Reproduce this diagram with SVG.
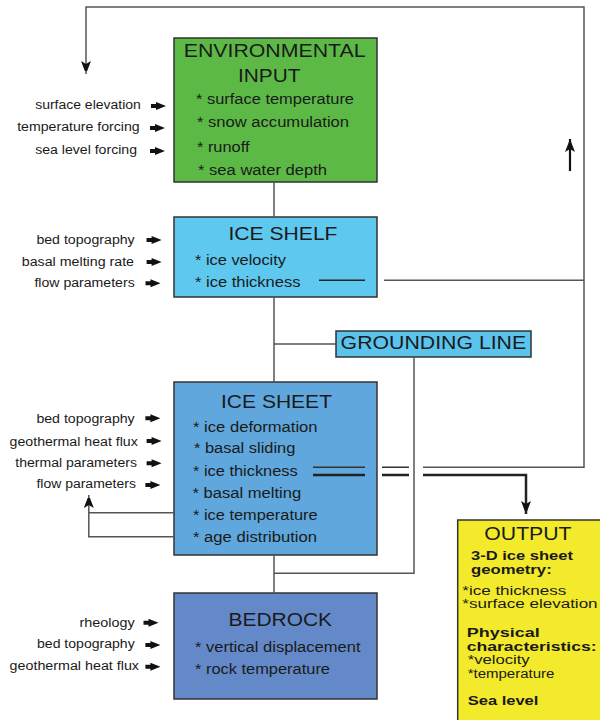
<svg xmlns="http://www.w3.org/2000/svg" width="600" height="720" viewBox="0 0 600 720">
<defs>
<style>
text{font-family:"Liberation Sans",Arial,Helvetica,sans-serif;fill:#1a1a1a}
.t{font-size:18px}
.i{font-size:14px}
.l{font-size:12px}
.o{font-size:12.5px}
.b{font-size:12.5px;font-weight:bold}
.box{stroke:#333;stroke-width:1.5}
.ln{fill:none;stroke:#555;stroke-width:1.5}
.dk{fill:none;stroke:#222;stroke-width:2.5}
.ar{fill:#111}
</style>
<marker id="ah" markerUnits="userSpaceOnUse" markerWidth="10" markerHeight="14" refX="13" refY="5" orient="auto">
<path d="M0,0 L13,5 L0,10 L3,5 z" fill="#111"/>
</marker>
<path id="sa" d="M0,-2 L5,-2 L5,-4 L15,0 L5,4 L5,2 L0,2 z"/>
</defs>
<rect width="600" height="720" fill="#fff"/>

<g id="environmental-input">
<rect class="box" x="174" y="38" width="203" height="144" fill="#5db946"/>
<text class="t" x="183.7" y="57.3" textLength="181.8" lengthAdjust="spacingAndGlyphs">ENVIRONMENTAL</text>
<text class="t" x="238" y="81.7" textLength="62.4" lengthAdjust="spacingAndGlyphs">INPUT</text>
<text class="i" x="196" y="104" textLength="158" lengthAdjust="spacingAndGlyphs">* surface temperature</text>
<text class="i" x="197" y="127.3" textLength="152" lengthAdjust="spacingAndGlyphs">* snow accumulation</text>
<text class="i" x="197" y="151.7" textLength="52.5" lengthAdjust="spacingAndGlyphs">* runoff</text>
<text class="i" x="198" y="175" textLength="129" lengthAdjust="spacingAndGlyphs">* sea water depth</text>
<text class="l" x="35.2" y="109" textLength="105.6" lengthAdjust="spacingAndGlyphs">surface elevation</text>
<text class="l" x="17.2" y="130.5" textLength="122.5" lengthAdjust="spacingAndGlyphs">temperature forcing</text>
<text class="l" x="35.2" y="153.5" textLength="101.8" lengthAdjust="spacingAndGlyphs">sea level forcing</text>
<use href="#sa" class="ar" x="151" y="106"/>
<use href="#sa" class="ar" x="150" y="128"/>
<use href="#sa" class="ar" x="150" y="151"/>
</g>

<g id="ice-shelf">
<rect class="box" x="174" y="217" width="203" height="80" fill="#5ec8ef"/>
<text class="t" x="228.5" y="240" textLength="109" lengthAdjust="spacingAndGlyphs">ICE SHELF</text>
<text class="i" x="195" y="265" textLength="91" lengthAdjust="spacingAndGlyphs">* ice velocity</text>
<text class="i" x="195" y="287.3" textLength="105.4" lengthAdjust="spacingAndGlyphs">* ice thickness</text>
<text class="l" x="36.4" y="243.5" textLength="98.3" lengthAdjust="spacingAndGlyphs">bed topography</text>
<text class="l" x="21.8" y="265.5" textLength="112.2" lengthAdjust="spacingAndGlyphs">basal melting rate</text>
<text class="l" x="34.4" y="287" textLength="100.3" lengthAdjust="spacingAndGlyphs">flow parameters</text>
<use href="#sa" class="ar" x="146.6" y="240"/>
<use href="#sa" class="ar" x="146.6" y="262"/>
<use href="#sa" class="ar" x="145.5" y="283.3"/>
</g>

<g id="grounding-line">
<rect class="box" x="336" y="331" width="195" height="26" fill="#5bc3ec"/>
<text class="t" x="340.6" y="349" textLength="185.6" lengthAdjust="spacingAndGlyphs">GROUNDING LINE</text>
</g>

<g id="ice-sheet">
<rect class="box" x="174" y="382" width="203" height="173" fill="#5fa7dc"/>
<text class="t" x="221" y="408.3" textLength="111" lengthAdjust="spacingAndGlyphs">ICE SHEET</text>
<text class="i" x="193" y="432.3" textLength="124.6" lengthAdjust="spacingAndGlyphs">* ice deformation</text>
<text class="i" x="194" y="453.3" textLength="101.4" lengthAdjust="spacingAndGlyphs">* basal sliding</text>
<text class="i" x="193" y="476" textLength="104.7" lengthAdjust="spacingAndGlyphs">* ice thickness</text>
<text class="i" x="192.5" y="498.3" textLength="108.7" lengthAdjust="spacingAndGlyphs">* basal melting</text>
<text class="i" x="193" y="520" textLength="124.6" lengthAdjust="spacingAndGlyphs">* ice temperature</text>
<text class="i" x="193" y="542.3" textLength="124" lengthAdjust="spacingAndGlyphs">* age distribution</text>
<text class="l" x="36.4" y="422.7" textLength="98.3" lengthAdjust="spacingAndGlyphs">bed topography</text>
<text class="l" x="9.6" y="446" textLength="128.2" lengthAdjust="spacingAndGlyphs">geothermal heat flux</text>
<text class="l" x="15.3" y="466.7" textLength="121.7" lengthAdjust="spacingAndGlyphs">thermal parameters</text>
<text class="l" x="36.4" y="488.3" textLength="99.5" lengthAdjust="spacingAndGlyphs">flow parameters</text>
<use href="#sa" class="ar" x="145.4" y="418.3"/>
<use href="#sa" class="ar" x="146.6" y="441"/>
<use href="#sa" class="ar" x="146.6" y="463.3"/>
<use href="#sa" class="ar" x="145.4" y="485"/>
</g>

<g id="bedrock">
<rect class="box" x="174" y="593" width="203" height="106" fill="#6389c9"/>
<text class="t" x="228.5" y="626" textLength="103.5" lengthAdjust="spacingAndGlyphs">BEDROCK</text>
<text class="i" x="195" y="651.7" textLength="165.5" lengthAdjust="spacingAndGlyphs">* vertical displacement</text>
<text class="i" x="195" y="674" textLength="135" lengthAdjust="spacingAndGlyphs">* rock temperature</text>
<text class="l" x="79.6" y="626.7" textLength="55" lengthAdjust="spacingAndGlyphs">rheology</text>
<text class="l" x="37" y="647.7" textLength="97.7" lengthAdjust="spacingAndGlyphs">bed topography</text>
<text class="l" x="9.6" y="670" textLength="129.4" lengthAdjust="spacingAndGlyphs">geothermal heat flux</text>
<use href="#sa" class="ar" x="143.5" y="622.7"/>
<use href="#sa" class="ar" x="145.4" y="645"/>
<use href="#sa" class="ar" x="145.4" y="666.7"/>
</g>

<g id="output">
<rect class="box" x="457.7" y="520" width="150" height="210" fill="#f3ea2c"/>
<text class="t" x="484.3" y="540" textLength="87.3" lengthAdjust="spacingAndGlyphs">OUTPUT</text>
<text class="b" x="471" y="559.5" textLength="102" lengthAdjust="spacingAndGlyphs">3-D ice sheet</text>
<text class="b" x="471" y="573.5" textLength="80.7" lengthAdjust="spacingAndGlyphs">geometry:</text>
<text class="o" x="462.3" y="595" textLength="104" lengthAdjust="spacingAndGlyphs">*ice thickness</text>
<text class="o" x="462.3" y="608.3" textLength="135.3" lengthAdjust="spacingAndGlyphs">*surface elevation</text>
<text class="b" x="466.7" y="636.7" textLength="73" lengthAdjust="spacingAndGlyphs">Physical</text>
<text class="b" x="466.7" y="650.7" textLength="130" lengthAdjust="spacingAndGlyphs">characteristics:</text>
<text class="o" x="467.7" y="664.3" textLength="62" lengthAdjust="spacingAndGlyphs">*velocity</text>
<text class="o" x="467.7" y="678" textLength="86.7" lengthAdjust="spacingAndGlyphs">*temperature</text>
<text class="b" x="467.7" y="705" textLength="70.7" lengthAdjust="spacingAndGlyphs">Sea level</text>
</g>

<g id="connectors">
<path class="ln" d="M423,467.3 H584 V7 H86 V74" marker-end="url(#ah)"/>
<path d="M570,171 V139" fill="none" stroke="#111" stroke-width="2.2" marker-end="url(#ah)"/>
<path class="ln" d="M274,182 V217"/>
<path class="ln" d="M274,297 V382"/>
<path class="ln" d="M274,344 H336"/>
<path class="ln" d="M414,357 V573.3 H274"/>
<path class="ln" d="M274,555 V593"/>
<path d="M319,280.3 H365" fill="none" stroke="#222" stroke-width="1.5"/>
<path class="ln" d="M384,280.3 H584"/>
<path d="M313,467.3 H365 M382,467.3 H409" fill="none" stroke="#333" stroke-width="1.5"/>
<path class="dk" d="M313,475 H365 M382,475 H409"/>
<path class="dk" d="M423,475 H526 V514" marker-end="url(#ah)"/>
<path class="ln" d="M174,512.7 H88.8"/>
<path class="ln" d="M174,536.7 H88.8 V495" marker-end="url(#ah)"/>
</g>
</svg>
